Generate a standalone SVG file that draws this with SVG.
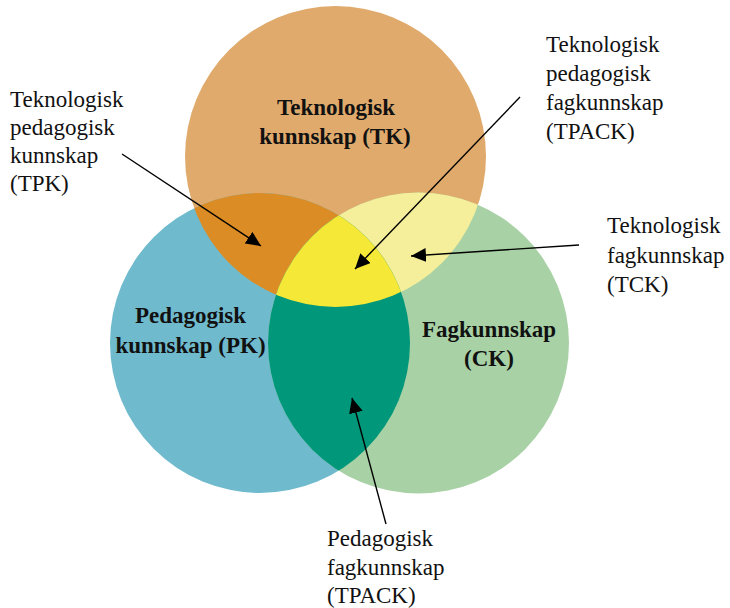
<svg xmlns="http://www.w3.org/2000/svg" width="730" height="608" viewBox="0 0 730 608">
<style>
.lbl{font-family:"Liberation Serif","Times New Roman",serif;font-size:23px;fill:#111}
.bold{font-family:"Liberation Serif","Times New Roman",serif;font-size:23px;font-weight:bold;fill:#111;text-anchor:middle}
.conn{stroke:#000;stroke-width:1.4;fill:none;marker-end:url(#ah)}
</style>
<defs>
<marker id="ah" markerUnits="userSpaceOnUse" markerWidth="16" markerHeight="14" viewBox="0 0 16 14" refX="15" refY="7" orient="auto">
<path d="M0,0 L15,7 L0,14 Z" fill="#000"/>
</marker>
<clipPath id="cT"><circle cx="335.5" cy="156.5" r="150.5"/></clipPath>
<clipPath id="cL"><circle cx="260" cy="343" r="150"/></clipPath>
<clipPath id="cR"><circle cx="418.5" cy="343" r="150.5"/></clipPath>
</defs>
<g id="circle-TK"><circle cx="335.5" cy="156.5" r="150.5" fill="#E0AA6C"/></g>
<g id="circle-PK"><circle cx="260" cy="343" r="150" fill="#6FBACD"/></g>
<g id="circle-CK"><circle cx="418.5" cy="343" r="150.5" fill="#A8D1A5"/></g>
<g id="overlap-TPK" clip-path="url(#cT)"><circle cx="260" cy="343" r="150" fill="#DC8C24"/></g>
<g id="overlap-TCK" clip-path="url(#cT)"><circle cx="418.5" cy="343" r="150.5" fill="#F5EF9B"/></g>
<g id="overlap-PCK" clip-path="url(#cL)"><circle cx="418.5" cy="343" r="150.5" fill="#00977A"/></g>
<g id="overlap-TPACK" clip-path="url(#cT)"><g clip-path="url(#cL)"><circle cx="418.5" cy="343" r="150.5" fill="#F6E836"/></g></g>
<g id="label-TK"><text class="bold" x="336" y="115">Teknologisk</text><text class="bold" x="335" y="144">kunnskap (TK)</text></g>
<g id="label-PK"><text class="bold" x="190.5" y="323">Pedagogisk</text><text class="bold" x="190.5" y="353">kunnskap (PK)</text></g>
<g id="label-CK"><text class="bold" x="489" y="337">Fagkunnskap</text><text class="bold" x="489" y="366">(CK)</text></g>
<g id="label-TPK"><text class="lbl" x="10" y="107">Teknologisk</text><text class="lbl" x="10" y="135">pedagogisk</text><text class="lbl" x="10" y="163">kunnskap</text><text class="lbl" x="10" y="191">(TPK)</text></g>
<g id="label-TPACK"><text class="lbl" x="546" y="52">Teknologisk</text><text class="lbl" x="546" y="81">pedagogisk</text><text class="lbl" x="546" y="110">fagkunnskap</text><text class="lbl" x="546" y="139">(TPACK)</text></g>
<g id="label-TCK"><text class="lbl" x="607" y="233">Teknologisk</text><text class="lbl" x="607" y="263">fagkunnskap</text><text class="lbl" x="607" y="292">(TCK)</text></g>
<g id="label-PCK"><text class="lbl" x="327" y="546">Pedagogisk</text><text class="lbl" x="327" y="575">fagkunnskap</text><text class="lbl" x="327" y="603">(TPACK)</text></g>
<g id="connectors">
<line class="conn" x1="122" y1="154" x2="261" y2="246"/>
<line class="conn" x1="520" y1="97" x2="355" y2="269"/>
<line class="conn" x1="579" y1="245" x2="411" y2="256"/>
<line class="conn" x1="386" y1="524" x2="352" y2="398"/>
</g>
</svg>
